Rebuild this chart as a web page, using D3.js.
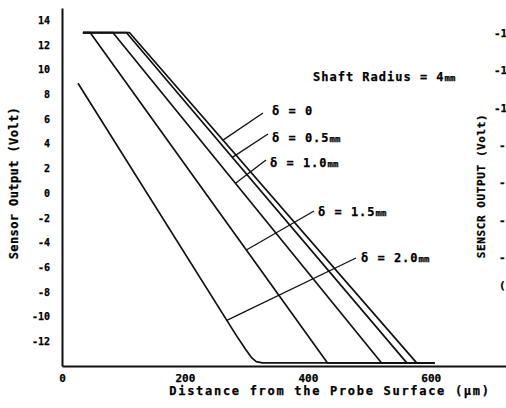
<!DOCTYPE html>
<html>
<head>
<meta charset="utf-8">
<script src="https://cdn.jsdelivr.net/npm/d3@7"></script>
<style>
  html, body { margin: 0; padding: 0; background: #fff; }
  svg { display: block; }
  text { font-family: "DejaVu Sans Mono", "Liberation Mono", monospace; font-weight: bold; fill: #000; stroke: #000; stroke-width: 0.25px; }
</style>
</head>
<body>
<svg id="chart" width="506" height="408"></svg>
<script>
// Sensor output (V) versus distance from the probe surface (µm), shaft radius 4 mm
const curveDelta00 = [[34, 13], [110, 13], [577, -13.75], [606, -13.75]];
const curveDelta05 = [[34, 13], [105, 13], [561, -13.75], [606, -13.75]];
const curveDelta10 = [[34, 13], [83, 13], [520, -13.75], [606, -13.75]];
const curveDelta15 = [[34, 13], [46, 13], [432, -13.75], [606, -13.75]];
const curveDelta20 = [[26, 8.9], [282, -11.4], [298, -12.6], [308, -13.3], [316, -13.65], [326, -13.75], [606, -13.75]];

const deltaValues = ["0", "0.5", "1.0", "1.5", "2.0"];
const deltaUnits = ["", "mm", "mm", "mm", "mm"];
const leaderVolts = [4.3, 2.9, 0.8, -4.6, -10.3];

const yTicks = [14, 12, 10, 8, 6, 4, 2, 0, -2, -4, -6, -8, -10, -12];
const xTicks = [0, 200, 400, 600];
// tick marks of the neighbouring panel, as far as they reach onto this page
const rightTicks = ["-1", "-1", "-1", "-", "-", "-", "-", "("];

const curves = [curveDelta00, curveDelta05, curveDelta10, curveDelta15, curveDelta20];

const svg = d3.select("#chart");
const x = d3.scaleLinear().domain([0, 724]).range([62, 507]);
const y = d3.scaleLinear().domain([-14, 15]).range([366, 8]);

// axes
const yAxis = d3.axisLeft(y).tickValues(yTicks).tickSize(0).tickPadding(12)
  .tickFormat(d => d);
const gy = svg.append("g").attr("transform", `translate(${x(0)},0)`).call(yAxis);
gy.select(".domain").attr("stroke", "#111").attr("stroke-width", 2);
gy.selectAll("text").style("font-size", "10px").attr("fill", "#000");

const xAxis = d3.axisBottom(x).tickValues(xTicks).tickSize(0).tickPadding(8);
const gx = svg.append("g").attr("transform", `translate(0,${y(-14)})`).call(xAxis);
gx.select(".domain").attr("stroke", "#111").attr("stroke-width", 2);
gx.selectAll("text").style("font-size", "11px").attr("fill", "#000");

// axis titles
svg.append("text")
  .attr("x", 330).attr("y", 395)
  .attr("text-anchor", "middle")
  .style("font-size", "12px").style("letter-spacing", "1.7px")
  .text("Distance from the Probe Surface (µm)");

svg.append("text")
  .attr("transform", "translate(18,183) rotate(-90)")
  .attr("text-anchor", "middle")
  .style("font-size", "12px").style("letter-spacing", "0.4px")
  .text("Sensor Output (Volt)");

// curves
const line = d3.line().x(d => x(d[0])).y(d => y(d[1]));
svg.append("g").selectAll("path").data(curves).join("path")
  .attr("d", line)
  .attr("fill", "none")
  .attr("stroke", "#111")
  .attr("stroke-width", 1.7)
  .attr("stroke-linejoin", "round");

// point on a curve at a given voltage
function pointAt(curve, v) {
  for (let i = 0; i < curve.length - 1; i++) {
    const [x0, v0] = curve[i], [x1, v1] = curve[i + 1];
    if ((v <= v0 && v >= v1) && v0 !== v1) {
      const t = (v - v0) / (v1 - v0);
      return [x0 + t * (x1 - x0), v];
    }
  }
  return curve[0];
}

// labels with leader lines
const labelPos = [[272, 115, 263, 113], [272, 142, 268, 134], [270, 167, 266, 160],
                  [318, 216, 314, 211], [361, 262, 356, 258]];
const labels = svg.append("g");
deltaValues.forEach((dv, i) => {
  const [tx, ty, lx, ly] = labelPos[i];
  const p = pointAt(curves[i], leaderVolts[i]);
  labels.append("line")
    .attr("x1", lx).attr("y1", ly)
    .attr("x2", x(p[0])).attr("y2", y(p[1]))
    .attr("stroke", "#111").attr("stroke-width", 1.3);
  const t = labels.append("text").attr("x", tx).attr("y", ty)
    .style("font-size", "12px").style("letter-spacing", "1px");
  t.append("tspan").text(`δ = ${dv}`);
  if (deltaUnits[i]) t.append("tspan").style("font-size", "9px").style("letter-spacing", "0px").text(deltaUnits[i]);
});

const shaft = svg.append("text").attr("x", 313).attr("y", 81)
  .style("font-size", "12px").style("letter-spacing", "1px");
shaft.append("tspan").text("Shaft Radius = 4");
shaft.append("tspan").style("font-size", "9px").style("letter-spacing", "0px").text("mm");

// neighbouring panel's axis title at the page edge
svg.append("text")
  .attr("transform", "translate(485,186) rotate(-90)")
  .attr("text-anchor", "middle")
  .style("font-size", "11px").style("letter-spacing", "0.6px")
  .text("SENSCR OUTPUT (Volt)");

svg.append("g").selectAll("text").data(rightTicks).join("text")
  .attr("x", (d, i) => i < 3 ? 494 : 499)
  .attr("y", (d, i) => i < 7 ? 37 + i * 37.3 : 289)
  .style("font-size", "11px")
  .text(d => d);
</script>
</body>
</html>
